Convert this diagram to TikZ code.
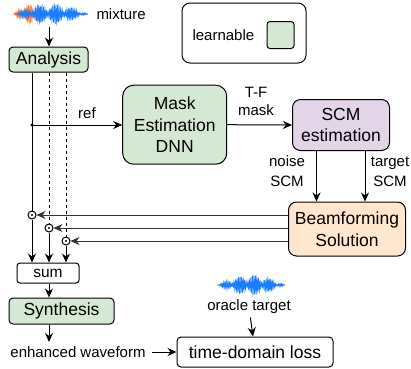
\documentclass[tikz,border=0pt]{standalone}
\usepackage{fontspec}
\setmainfont{Liberation Sans}
\usetikzlibrary{arrows.meta}

\definecolor{learngreen}{HTML}{D5E8D4}
\definecolor{scmpurple}{HTML}{E1D5E7}
\definecolor{bforange}{HTML}{FFE6CC}
\definecolor{waveblue}{HTML}{1A7FFF}
\definecolor{waveorange}{HTML}{FF7A2E}

\begin{document}
\begin{tikzpicture}[x=1pt, y=-1pt, line width=1pt, % 画素単位、y軸は下向き
    box/.style={draw, rounded corners=4pt, inner sep=0pt, align=center, font=\fontsize{17.5}{21.5}\selectfont},
    lbl/.style={inner sep=0pt, align=center, font=\fontsize{15}{19}\selectfont},
    arr/.style={-{Stealth[length=9pt, width=8pt]}},
    mul/.style={draw, circle, inner sep=0pt, minimum size=8pt},
    wave/.style={line width=0.7pt, samples=250}]
    \useasboundingbox (0,0) rectangle (411,368); % 余白込みの大きさ

    % 波形
    \draw[wave, waveorange, domain=13:50] plot (\x, {14+(2+7*abs(sin((\x-13)*17)))*sin((\x-13)*180/37)*sin(mod(\x*25,36)*10)});
    \draw[wave, waveblue, domain=15:88] plot (\x, {14+(2+8*abs(sin((\x-15)*11)))*sin((\x-15)*180/73)*sin(mod(\x*23,36)*10)});
    \draw[wave, waveblue, domain=217:285] plot (\x, {285+(2+8*abs(sin((\x-217)*12)))*sin((\x-217)*180/68)*sin(mod(\x*23.5,36)*10)});
    \node[lbl, anchor=west] (mix) at (96,14) {mixture};
    \coordinate (mixw) at (49,27);

    % 凡例
    \node[draw, rounded corners=8pt, minimum width=124pt, minimum height=60pt] (leg) at (244,33) {};
    \node[lbl, anchor=west] (legtxt) at (192,35) {learnable};
    \node[draw, fill=learngreen, rounded corners=3pt, minimum size=27pt] (legbox) at (280.5,35) {};

    % ブロック
    \node[box, fill=learngreen, minimum width=79pt, minimum height=25pt] (ana) at (48.5,59.5) {Analysis};
    \node[box, fill=learngreen, rounded corners=11pt, minimum width=104pt, minimum height=79pt] (dnn) at (174.7,124.7) {Mask\\Estimation\\DNN};
    \node[box, fill=scmpurple, rounded corners=8pt, minimum width=97pt, minimum height=51pt] (scm) at (341,125) {SCM\\estimation};
    \node[box, fill=bforange, rounded corners=8pt, minimum width=117pt, minimum height=54pt] (bf) at (347,229) {Beamforming\\Solution};
    \node[box, font=\fontsize{15.5}{19}\selectfont, rounded corners=3pt, minimum width=62pt, minimum height=20pt] (sum) at (48,273) {sum};
    \node[box, fill=learngreen, minimum width=105pt, minimum height=26pt] (syn) at (61.5,311) {Synthesis};
    \node[box, minimum width=156pt, minimum height=30pt] (loss) at (255,352) {time-domain loss};

    % ラベル
    \node[lbl] (ref) at (87,113) {ref};
    \node[lbl, font=\fontsize{15}{18}\selectfont] (tfm) at (256,101) {T-F\\mask};
    \node[lbl, font=\fontsize{15}{20}\selectfont] (nzl) at (287,171.5) {noise\\SCM};
    \node[lbl, font=\fontsize{15}{20}\selectfont] (tgl) at (390,171.5) {target\\SCM};
    \node[lbl] (enh) at (78,352) {enhanced waveform};
    \node[lbl] (orc) at (249,307) {oracle target};

    % 乗算
    \node[mul] (c1) at (32,215) {};
    \node[mul] (c2) at (49,228) {};
    \node[mul] (c3) at (66,241) {};
    \foreach \c in {c1,c2,c3} \fill (\c) circle (1.2pt);

    % 矢印
    \draw[arr] (mixw) -- (mixw |- ana.north);
    \coordinate (refpt) at (32,125);
    \fill (refpt) circle (1.6pt);
    \draw (ana.south -| c1) -- (c1);
    \draw[dashed, dash pattern=on 3pt off 3pt] (ana.south -| c2) -- (c2); % 破線
    \draw[dashed, dash pattern=on 3pt off 3pt] (ana.south -| c3) -- (c3);
    \draw[arr] (refpt) -- (dnn.west |- refpt);
    \draw[arr] (dnn.east) -- (scm.west);
    \coordinate (nz) at ([xshift=-24.5pt]scm.south);
    \coordinate (tg) at ([xshift=24pt]scm.south);
    \draw[arr] (nz) -- (nz |- bf.north);
    \draw[arr] (tg) -- (tg |- bf.north);
    \foreach \c in {c1,c2,c3} {
      \draw[arr, black!80] (bf.west |- \c) -- (\c);
      \draw[arr] (\c) -- (sum.north -| \c);
    }
    \draw[arr] (sum.south -| c2) -- (syn.north -| c2);
    \draw[arr, shorten >=4pt] (syn.south -| c2) -- (enh.north -| c2);
    \draw[arr, shorten <=6pt] (enh.east) -- (loss.west);
    \draw[arr, shorten <=3pt] (orc) -- (loss);
  \end{tikzpicture}
\end{document}
